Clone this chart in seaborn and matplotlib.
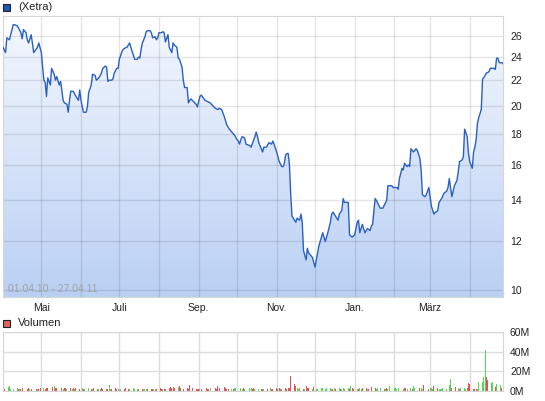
import numpy as np
import pandas as pd
import seaborn as sns
import matplotlib
matplotlib.use('Agg')
import matplotlib.pyplot as plt
from matplotlib.colors import LinearSegmentedColormap
from matplotlib.patches import Rectangle
from matplotlib.ticker import NullLocator

sns.set_style('white')
plt.rcParams['font.family'] = ['Liberation Sans', 'DejaVu Sans']

start = pd.Timestamp('2010-04-01')
end = pd.Timestamp('2011-04-27')

# Kurs (Tage seit 01.04.10, Preis)
days = [0, 2, 3, 5, 8, 9, 11, 12, 14, 15,
        16, 18, 19, 20, 22, 23, 24, 27, 28, 30,
        31, 32, 33, 34, 35, 37, 38, 40, 41, 42,
        44, 45, 46, 47, 48, 50, 51, 52, 53, 54,
        55, 57, 59, 60, 61, 62, 63, 65, 66, 67,
        69, 70, 72, 73, 75, 77, 78, 80, 81, 82,
        83, 85, 86, 87, 89, 90, 91, 93, 94, 95,
        97, 98, 99, 101, 103, 105, 106, 107, 108, 109,
        111, 112, 113, 115, 116, 117, 119, 120, 121, 122,
        124, 125, 126, 127, 129, 130, 132, 133, 134, 136,
        137, 138, 140, 141, 142, 144, 145, 146, 147, 148,
        150, 151, 152, 154, 155, 158, 160, 162, 164, 166,
        168, 169, 171, 173, 175, 177, 179, 181, 183, 184,
        185, 186, 187, 189, 190, 193, 194, 197, 198, 199,
        200, 203, 204, 206, 208, 210, 211, 212, 214, 215,
        216, 218, 219, 220, 221, 222, 223, 224, 225, 226,
        227, 229, 230, 232, 233, 234, 235, 237, 238, 239,
        242, 244, 245, 247, 249, 250, 252, 253, 254, 256,
        257, 258, 261, 262, 263, 265, 266, 267, 270, 271,
        273, 275, 277, 278, 279, 280, 281, 283, 284, 285,
        287, 288, 289, 291, 292, 295, 297, 300, 301, 304,
        305, 308, 309, 310, 312, 313, 314, 316, 317, 318,
        319, 320, 321, 323, 324, 326, 327, 328, 330, 331,
        332, 333, 334, 335, 337, 338, 339, 340, 341, 343,
        345, 347, 348, 349, 351, 352, 353, 355, 356, 357,
        359, 360, 361, 363, 364, 365, 367, 368, 369, 370,
        371, 372, 374, 375, 376, 377, 378, 380, 381, 382,
        384, 385, 386, 387, 388, 390, 391]
price = [24.9, 24.4, 25.8, 25.6, 27.1, 27.1, 27.0, 26.8, 26.3, 25.7,
         26.6, 26.3, 25.6, 25.3, 26.1, 25.3, 24.4, 24.9, 25.3, 24.4,
         23.1, 22.0, 21.8, 20.7, 22.2, 21.6, 23.0, 22.5, 22.0, 22.3,
         21.6, 21.9, 21.2, 20.4, 20.2, 20.1, 19.5, 20.4, 21.1, 21.1,
         21.1, 20.7, 20.4, 21.2, 20.4, 19.9, 19.5, 19.5, 19.9, 21.0,
         21.6, 22.5, 22.4, 22.0, 22.2, 22.6, 23.0, 23.2, 23.1, 21.9,
         22.0, 22.0, 22.1, 22.6, 23.0, 23.0, 23.8, 24.5, 24.7, 24.8,
         24.9, 25.1, 25.3, 24.5, 23.8, 23.8, 24.0, 23.9, 24.7, 25.3,
         25.9, 26.4, 26.5, 26.5, 26.3, 25.8, 25.9, 25.6, 25.8, 26.3,
         26.3, 26.4, 26.3, 25.4, 26.1, 24.9, 24.4, 25.3, 25.1, 24.9,
         23.9, 23.8, 23.1, 22.0, 21.4, 21.4, 20.2, 20.4, 20.5, 20.4,
         20.2, 20.1, 19.9, 20.7, 20.8, 20.4, 20.3, 20.2, 20.0, 19.8,
         19.7, 19.8, 19.7, 19.2, 18.6, 18.3, 18.1, 17.9, 17.6, 17.5,
         17.3, 17.6, 17.8, 17.7, 17.3, 17.2, 17.1, 17.8, 18.1, 17.8,
         17.4, 16.8, 17.1, 17.1, 17.4, 17.3, 17.5, 17.3, 16.8, 16.5,
         16.2, 15.9, 15.9, 16.1, 16.6, 16.7, 16.7, 16.0, 14.3, 13.2,
         13.1, 12.9, 13.1, 13.0, 13.3, 12.9, 11.6, 11.2, 11.7, 11.5,
         11.3, 10.9, 11.2, 11.8, 12.2, 12.4, 12.0, 12.2, 12.4, 12.9,
         13.3, 13.4, 13.1, 13.0, 13.3, 13.5, 14.1, 13.9, 13.9, 12.3,
         12.2, 12.3, 12.9, 13.0, 12.4, 12.6, 12.8, 12.4, 12.5, 12.6,
         12.5, 12.7, 12.8, 14.1, 14.0, 13.6, 13.6, 14.0, 14.8, 14.8,
         14.7, 14.7, 14.6, 15.2, 15.8, 15.7, 16.1, 15.9, 16.0, 15.9,
         17.0, 16.9, 16.8, 17.0, 16.9, 16.4, 15.7, 14.3, 14.2, 14.3,
         14.5, 14.7, 14.2, 13.7, 13.3, 13.4, 13.4, 13.5, 13.9, 14.1,
         14.4, 14.5, 14.7, 15.2, 14.2, 14.5, 14.8, 15.1, 15.6, 16.2,
         16.3, 16.5, 18.3, 17.8, 16.7, 16.2, 15.8, 16.8, 17.1, 17.6,
         18.7, 19.1, 19.7, 22.1, 22.2, 22.4, 22.6, 22.7, 23.0, 23.0,
         23.0, 22.9, 23.9, 23.9, 23.5, 23.5, 23.4]

# Volumen in Mio. je Handelstag, Farbe: g=steigend, r=fallend, x=neutral
volume = [3, 2, 4, 5, 2, 3, 2, 3, 2, 2,
          2, 3, 2, 2, 3, 2, 2, 3, 2, 2,
          2, 3, 3, 2, 3, 3, 6, 4, 5, 3,
          3, 4, 3, 2, 3, 3, 2, 3, 2, 3,
          2, 3, 2, 2, 3, 2, 2, 3, 2, 2,
          2, 3, 2, 2, 2, 3, 2, 2, 2, 6,
          2, 2, 3, 2, 2, 2, 2, 2, 3, 2,
          2, 2, 3, 2, 3, 2, 2, 2, 2, 2,
          2, 2, 2, 2, 2, 2, 2, 3, 2, 2,
          2, 2, 3, 4, 3, 4, 3, 4, 5, 3,
          2, 2, 3, 2, 6, 2, 3, 2, 2, 2,
          2, 2, 2, 3, 2, 2, 3, 2, 3, 2,
          5, 3, 3, 4, 3, 2, 2, 2, 2, 3,
          3, 2, 3, 2, 3, 2, 4, 3, 3, 2,
          3, 2, 2, 3, 2, 2, 2, 2, 2, 3,
          2, 2, 3, 2, 3, 2, 2, 3, 2, 3,
          3, 15, 7, 5, 3, 2, 3, 2, 2, 5,
          3, 3, 2, 4, 3, 2, 2, 3, 3, 2,
          2, 3, 3, 2, 2, 3, 2, 3, 2, 2,
          3, 2, 3, 2, 5, 3, 2, 2, 2, 3,
          2, 3, 3, 2, 2, 3, 4, 3, 2, 3,
          2, 3, 2, 2, 3, 2, 5, 2, 3, 3,
          2, 3, 2, 2, 3, 3, 2, 3, 2, 5,
          3, 2, 3, 3, 2, 6, 8, 2, 3, 3,
          2, 5, 3, 2, 2, 2, 3, 2, 4, 6,
          12, 3, 4, 2, 3, 2, 3, 3, 2, 3,
          8, 7, 2, 2, 2, 2, 9, 9, 14, 42,
          14, 11, 8, 9, 9, 4, 7, 6, 3, 5]
vol_dir = ("grgggxxgrg" "rrgrrgrrrg" "rrgrrrrrgr" "rrrgrrgrgr" "grrggrgggr"
           "grrggrrrrg" "grrrxxgrrg" "rgggrgrrgg" "grrrggrrrg" "rrrrrrrgrr"
           "rrrrrgrrrr" "grrrrrgrrr" "rrrrrrrgrg" "grggrggggr" "rggrrrgrrg"
           "rrrrrrgrrr" "rrrrgggrgr" "rrgrrggggg" "ggggrgrgrg" "gggrgrrgrg"
           "grrgrrrrgg" "ggrgrggrgg" "ggrgrrggrg" "ggrggrrrgg" "grrggggggg"
           "grrggrgggr" "rrrrrggggg" "rrgggrggrr")

price_ticks = [10, 12, 14, 16, 18, 20, 22, 24, 26]
vol_ticks = [0, 20, 40, 60]
vol_labels = ['0M', '20M', '40M', '60M']
month_labels = ['Mai', '', 'Juli', '', 'Sep.', '', 'Nov.', '', 'Jan.', '', 'März', '']

df = pd.DataFrame({'date': start + pd.to_timedelta(days, unit='D'), 'price': price})
vol = pd.DataFrame({'date': pd.bdate_range(start, end), 'volume': volume, 'dir': list(vol_dir)})
months = pd.date_range('2010-05-01', '2011-04-01', freq='MS')

grid_kw = dict(color='black', alpha=0.1, linewidth=1)
spine_col = '#d6d6d6'

fig = plt.figure(figsize=(5.45, 4.01), dpi=100)
ax = fig.add_axes([3 / 545, 1 - 297 / 401, 500 / 545, 281 / 401])
axv = fig.add_axes([3 / 545, 1 - 391 / 401, 500 / 545, 59 / 401])

# Kurschart
ax.set_yscale('log')
sns.lineplot(data=df, x='date', y='price', ax=ax, color='#2b60c2', linewidth=1.0, zorder=3)
ylo, yhi = 9.74, 28.0
poly = ax.fill_between(df['date'], df['price'], ylo, facecolor='none', edgecolor='none')
ax.set_xlim(start, end)
ax.set_ylim(ylo, yhi)
ax.set_autoscale_on(False)
cmap = LinearSegmentedColormap.from_list('blau', ['#b9d0f4', '#f5f8fe'])
img = ax.imshow(np.linspace(0, 1, 256).reshape(-1, 1), cmap=cmap, aspect='auto',
                extent=[0, 1, 0, 1], transform=ax.transAxes, origin='lower', zorder=1)
img.set_clip_path(poly.get_paths()[0], transform=ax.transData)

ax.set_axisbelow('line')
ax.grid(True, **grid_kw)
ax.yaxis.tick_right()
ax.set_yticks(price_ticks)
ax.set_yticklabels([str(v) for v in price_ticks])
ax.yaxis.set_minor_locator(NullLocator())
ax.set_xticks(months)
ax.set_xticklabels(month_labels)
ax.tick_params(axis='y', length=0, pad=5, labelsize=7.5, labelcolor='#222222')
ax.tick_params(axis='x', length=3, color='#dddddd', pad=1, labelsize=7.5, labelcolor='#222222')
ax.set_xlabel('')
ax.set_ylabel('')
for s in ax.spines.values():
    s.set_color(spine_col)
ax.text(0.01, 0.011, '01.04.10 - 27.04.11', transform=ax.transAxes, color='#a3a3a3',
        fontsize=7.5, va='bottom', ha='left', zorder=4)

# Volumen
colmap = {'g': '#55d455', 'r': '#dc5656', 'x': '#b0b0b0'}
axv.bar(vol['date'], vol['volume'], width=0.7, color=[colmap[c] for c in vol['dir']],
        linewidth=0, antialiased=False, zorder=2)
axv.set_xlim(start, end)
axv.set_ylim(0, 60)
axv.set_axisbelow(True)
axv.grid(True, color='#dddddd', linewidth=1)
axv.yaxis.tick_right()
axv.set_yticks(vol_ticks)
axv.set_yticklabels(vol_labels)
axv.set_xticks(months)
axv.tick_params(axis='x', length=0, labelbottom=False)
axv.tick_params(axis='y', length=0, pad=5, labelsize=7.5, labelcolor='#222222')
for s in axv.spines.values():
    s.set_color(spine_col)

# Legenden
fig.add_artist(Rectangle((3 / 545, 1 - 11 / 401), 7 / 545, 7 / 401, transform=fig.transFigure,
                         facecolor='#1f57b8', edgecolor='#222222', linewidth=0.8))
fig.text(18 / 545, 1 - 7 / 401, '(Xetra)', va='center', ha='left', fontsize=8, color='#222222')
fig.add_artist(Rectangle((3 / 545, 1 - 327 / 401), 7 / 545, 7 / 401, transform=fig.transFigure,
                         facecolor='#e06464', edgecolor='#222222', linewidth=0.8))
fig.text(18 / 545, 1 - 323 / 401, 'Volumen', va='center', ha='left', fontsize=8, color='#222222')

fig.savefig('out.png', dpi=100)
